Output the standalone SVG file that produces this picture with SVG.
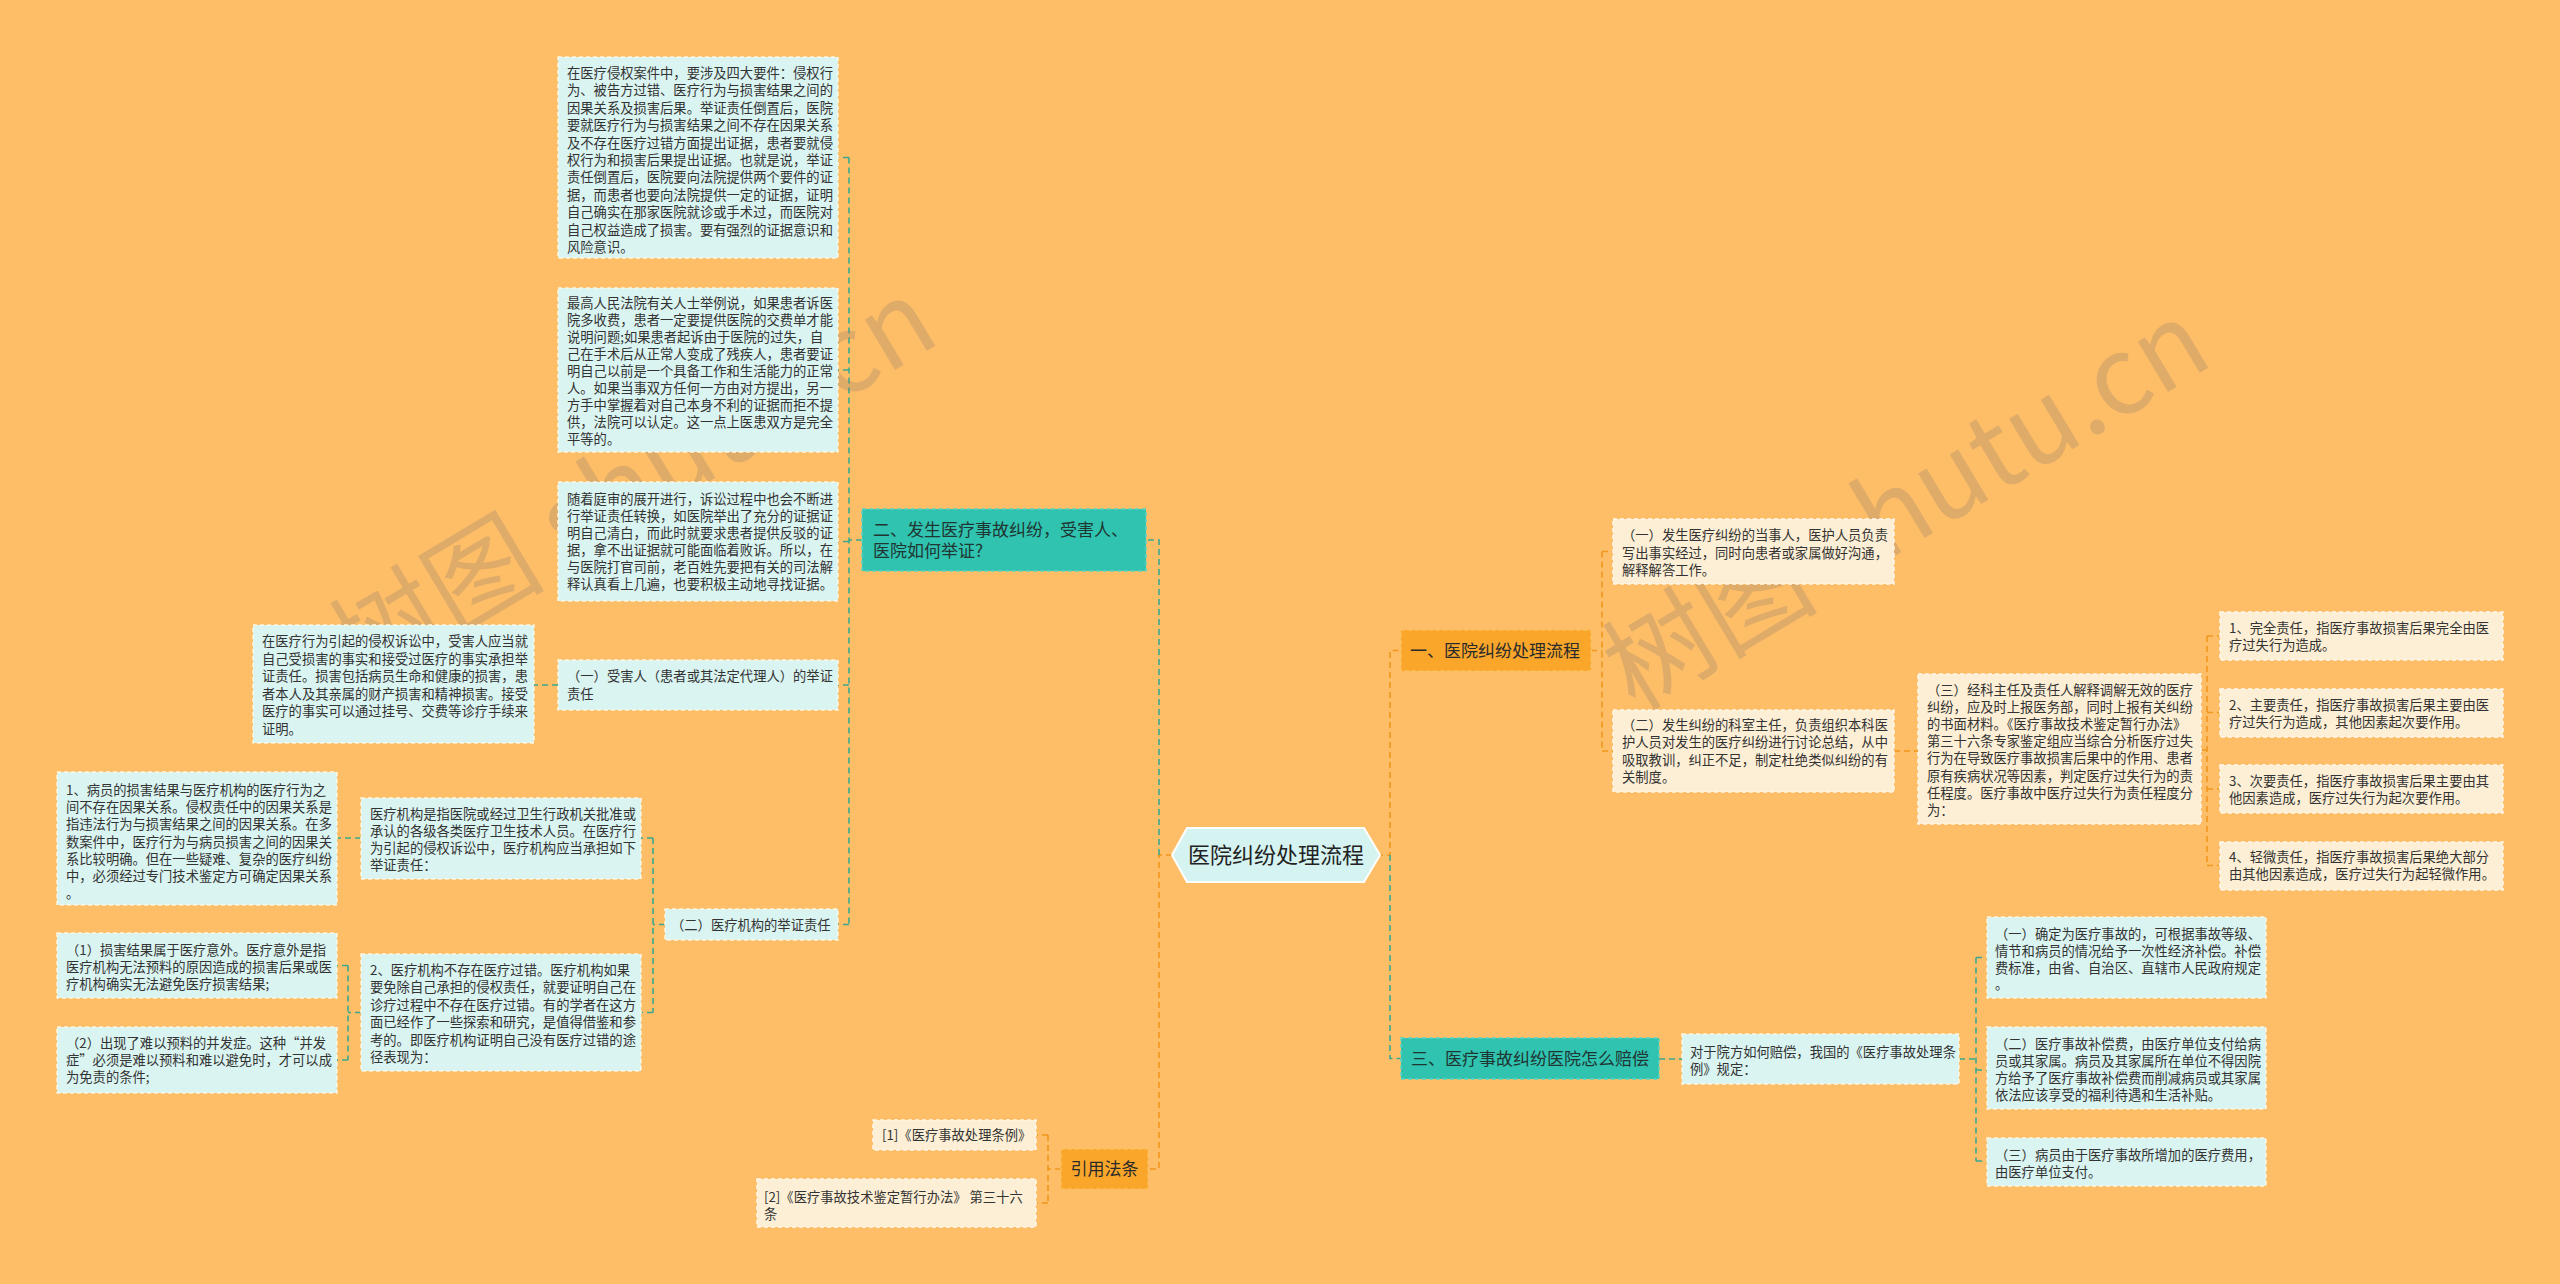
<svg xmlns="http://www.w3.org/2000/svg" width="2560" height="1284" viewBox="0 0 2560 1284">
<style>
text{font-family:"Noto Sans CJK SC","Noto Sans",sans-serif;fill:#333;}
.t{font-size:13.3px;}
.b{font-size:17px;fill:#2a2a2a;}
.bt{font-size:17px;fill:#1f3633;}
.c{font-size:22px;fill:#222;}
.cy{fill:#DAF4F1;stroke:#FFF6DE;stroke-width:1.5;stroke-dasharray:4 3;}
.cr{fill:#FDEFD5;stroke:#FFF8EA;stroke-width:1.5;stroke-dasharray:4 3;}
.tl{fill:#30C3B0;stroke:#5ED3C2;stroke-width:1.5;stroke-dasharray:4 3;}
.or{fill:#F9A62A;stroke:#FBBE5C;stroke-width:1.5;stroke-dasharray:4 3;}
.g{fill:none;stroke:#3AA98F;stroke-width:1.6;stroke-dasharray:6 4;}
.o{fill:none;stroke:#F0971C;stroke-width:1.6;stroke-dasharray:6 4;}
.wm{font-size:108px;fill:#8c7b6b;fill-opacity:0.28;}
</style>
<rect width="2560" height="1284" fill="#FEBE68"/>

<g id="connectors">
<path class="o" d="M1172 855 H1159 V1169 H1148"/>
<path class="g" d="M1159 855 V540 H1146"/>
<path class="g" d="M862 540 H849"/>
<path class="g" d="M849 157.5 V924.5"/>
<path class="g" d="M849 157.5 H838 M849 370 H838 M849 541.5 H838 M849 685 H838 M849 924.5 H838"/>
<path class="g" d="M558 685 H534"/>
<path class="g" d="M665 924.5 H653 M653 838 V1012.5 M653 838 H641 M653 1012.5 H641"/>
<path class="g" d="M361 838 H337"/>
<path class="g" d="M361 1012.5 H348 M348 965.5 V1060 M348 965.5 H337 M348 1060 H337"/>
<path class="o" d="M1061 1169 H1048 M1048 1135 V1203 M1048 1135 H1036 M1048 1203 H1036"/>
<path class="o" d="M1377 855 H1390 V650.5 H1401"/>
<path class="g" d="M1390 855 V1058.5 H1401"/>
<path class="o" d="M1591 650.5 H1602 M1602 551.5 V751 M1602 551.5 H1613 M1602 751 H1613"/>
<path class="o" d="M1894 751 H1918"/>
<path class="o" d="M2201 750 H2207 M2207 636 V865.5 M2207 636 H2220 M2207 712.5 H2220 M2207 789 H2220 M2207 865.5 H2220"/>
<path class="g" d="M1659 1059 H1682"/>
<path class="g" d="M1959 1059 H1976 M1976 957.5 V1161 M1976 957.5 H1987 M1976 1070 H1987 M1976 1161 H1987"/>
</g>

<g id="watermarks">
<text class="wm" x="362" y="690" transform="rotate(-31 362 690)">树图 shutu.cn</text>
<text class="wm" x="1635" y="712" transform="rotate(-31 1635 712)">树图 shutu.cn</text>
</g>

<g id="center">
<polygon points="1172,855 1187,828 1364,828 1380,855 1364,882 1187,882" fill="#D5F3F0" stroke="#FFFFFF" stroke-width="2"/>
<text class="c" x="1276" y="863" text-anchor="middle">医院纠纷处理流程</text>
</g>

<g id="n2">
<rect class="tl" x="862" y="509" width="284" height="62"/>
<text class="bt" x="873" y="536">二、发生医疗事故纠纷，受害人、<tspan x="873" dy="21">医院如何举证?</tspan></text>
</g>

<g id="n2a">
<rect class="cy" x="558" y="57" width="280" height="201"/>
<text class="t" x="567" y="78">在医疗侵权案件中，要涉及四大要件：侵权行<tspan x="567" dy="17.4">为、被告方过错、医疗行为与损害结果之间的</tspan><tspan x="567" dy="17.4">因果关系及损害后果。举证责任倒置后，医院</tspan><tspan x="567" dy="17.4">要就医疗行为与损害结果之间不存在因果关系</tspan><tspan x="567" dy="17.4">及不存在医疗过错方面提出证据，患者要就侵</tspan><tspan x="567" dy="17.4">权行为和损害后果提出证据。也就是说，举证</tspan><tspan x="567" dy="17.4">责任倒置后，医院要向法院提供两个要件的证</tspan><tspan x="567" dy="17.4">据，而患者也要向法院提供一定的证据，证明</tspan><tspan x="567" dy="17.4">自己确实在那家医院就诊或手术过，而医院对</tspan><tspan x="567" dy="17.4">自己权益造成了损害。要有强烈的证据意识和</tspan><tspan x="567" dy="17.4">风险意识。</tspan></text>
</g>

<g id="n2b">
<rect class="cy" x="558" y="288" width="280" height="164"/>
<text class="t" x="567" y="308">最高人民法院有关人士举例说，如果患者诉医<tspan x="567" dy="17">院多收费，患者一定要提供医院的交费单才能</tspan><tspan x="567" dy="17">说明问题;如果患者起诉由于医院的过失，自</tspan><tspan x="567" dy="17">己在手术后从正常人变成了残疾人，患者要证</tspan><tspan x="567" dy="17">明自己以前是一个具备工作和生活能力的正常</tspan><tspan x="567" dy="17">人。如果当事双方任何一方由对方提出，另一</tspan><tspan x="567" dy="17">方手中掌握着对自己本身不利的证据而拒不提</tspan><tspan x="567" dy="17">供，法院可以认定。这一点上医患双方是完全</tspan><tspan x="567" dy="17">平等的。</tspan></text>
</g>

<g id="n2c">
<rect class="cy" x="558" y="482" width="280" height="119"/>
<text class="t" x="567" y="504">随着庭审的展开进行，诉讼过程中也会不断进<tspan x="567" dy="17">行举证责任转换，如医院举出了充分的证据证</tspan><tspan x="567" dy="17">明自己清白，而此时就要求患者提供反驳的证</tspan><tspan x="567" dy="17">据，拿不出证据就可能面临着败诉。所以，在</tspan><tspan x="567" dy="17">与医院打官司前，老百姓先要把有关的司法解</tspan><tspan x="567" dy="17">释认真看上几遍，也要积极主动地寻找证据。</tspan></text>
</g>

<g id="n2d">
<rect class="cy" x="558" y="660" width="280" height="50"/>
<text class="t" x="567" y="681">（一）受害人（患者或其法定代理人）的举证<tspan x="567" dy="18">责任</tspan></text>
</g>

<g id="n2d1">
<rect class="cy" x="253" y="625" width="281" height="118"/>
<text class="t" x="262" y="646">在医疗行为引起的侵权诉讼中，受害人应当就<tspan x="262" dy="17.5">自己受损害的事实和接受过医疗的事实承担举</tspan><tspan x="262" dy="17.5">证责任。损害包括病员生命和健康的损害，患</tspan><tspan x="262" dy="17.5">者本人及其亲属的财产损害和精神损害。接受</tspan><tspan x="262" dy="17.5">医疗的事实可以通过挂号、交费等诊疗手续来</tspan><tspan x="262" dy="17.5">证明。</tspan></text>
</g>

<g id="n2e">
<rect class="cy" x="665" y="909" width="173" height="31"/>
<text class="t" x="671" y="929.5">（二）医疗机构的举证责任</text>
</g>

<g id="n2e1">
<rect class="cy" x="361" y="798" width="280" height="81"/>
<text class="t" x="370" y="819">医疗机构是指医院或经过卫生行政机关批准或<tspan x="370" dy="17">承认的各级各类医疗卫生技术人员。在医疗行</tspan><tspan x="370" dy="17">为引起的侵权诉讼中，医疗机构应当承担如下</tspan><tspan x="370" dy="17">举证责任：</tspan></text>
</g>

<g id="n2e1a">
<rect class="cy" x="57" y="772" width="280" height="133"/>
<text class="t" x="66" y="795">1、病员的损害结果与医疗机构的医疗行为之<tspan x="66" dy="17.2">间不存在因果关系。侵权责任中的因果关系是</tspan><tspan x="66" dy="17.2">指违法行为与损害结果之间的因果关系。在多</tspan><tspan x="66" dy="17.2">数案件中，医疗行为与病员损害之间的因果关</tspan><tspan x="66" dy="17.2">系比较明确。但在一些疑难、复杂的医疗纠纷</tspan><tspan x="66" dy="17.2">中，必须经过专门技术鉴定方可确定因果关系</tspan><tspan x="66" dy="17.2">。</tspan></text>
</g>

<g id="n2e2">
<rect class="cy" x="361" y="954" width="280" height="117"/>
<text class="t" x="370" y="975">2、医疗机构不存在医疗过错。医疗机构如果<tspan x="370" dy="17.4">要免除自己承担的侵权责任，就要证明自己在</tspan><tspan x="370" dy="17.4">诊疗过程中不存在医疗过错。有的学者在这方</tspan><tspan x="370" dy="17.4">面已经作了一些探索和研究，是值得借鉴和参</tspan><tspan x="370" dy="17.4">考的。即医疗机构证明自己没有医疗过错的途</tspan><tspan x="370" dy="17.4">径表现为：</tspan></text>
</g>

<g id="n2e2a">
<rect class="cy" x="57" y="933" width="280" height="65"/>
<text class="t" x="66" y="955">（1）损害结果属于医疗意外。医疗意外是指<tspan x="66" dy="17">医疗机构无法预料的原因造成的损害后果或医</tspan><tspan x="66" dy="17">疗机构确实无法避免医疗损害结果;</tspan></text>
</g>

<g id="n2e2b">
<rect class="cy" x="57" y="1027" width="280" height="66"/>
<text class="t" x="66" y="1048">（2）出现了难以预料的并发症。这种“并发<tspan x="66" dy="17">症”必须是难以预料和难以避免时，才可以成</tspan><tspan x="66" dy="17">为免责的条件;</tspan></text>
</g>

<g id="ref">
<rect class="or" x="1061" y="1149" width="87" height="40"/>
<text class="b" x="1104.5" y="1175" text-anchor="middle">引用法条</text>
</g>
<g id="ref1">
<rect class="cr" x="873" y="1120" width="163" height="30"/>
<text class="t" x="882" y="1140">[1]《医疗事故处理条例》</text>
</g>
<g id="ref2">
<rect class="cr" x="757" y="1179" width="279" height="48"/>
<text class="t" x="764" y="1202">[2]《医疗事故技术鉴定暂行办法》 第三十六<tspan x="764" dy="16.5">条</tspan></text>
</g>

<g id="n1">
<rect class="or" x="1401" y="630" width="190" height="41"/>
<text class="b" x="1410" y="657">一、医院纠纷处理流程</text>
</g>
<g id="n1a">
<rect class="cr" x="1613" y="519" width="281" height="65"/>
<text class="t" x="1622" y="540">（一）发生医疗纠纷的当事人，医护人员负责<tspan x="1622" dy="17.5">写出事实经过，同时向患者或家属做好沟通，</tspan><tspan x="1622" dy="17.5">解释解答工作。</tspan></text>
</g>
<g id="n1b">
<rect class="cr" x="1613" y="710" width="281" height="82"/>
<text class="t" x="1622" y="730">（二）发生纠纷的科室主任，负责组织本科医<tspan x="1622" dy="17.3">护人员对发生的医疗纠纷进行讨论总结，从中</tspan><tspan x="1622" dy="17.3">吸取教训，纠正不足，制定杜绝类似纠纷的有</tspan><tspan x="1622" dy="17.3">关制度。</tspan></text>
</g>
<g id="n1c">
<rect class="cr" x="1918" y="674" width="283" height="150"/>
<text class="t" x="1927" y="695">（三）经科主任及责任人解释调解无效的医疗<tspan x="1927" dy="17.1">纠纷，应及时上报医务部，同时上报有关纠纷</tspan><tspan x="1927" dy="17.1">的书面材料。《医疗事故技术鉴定暂行办法》</tspan><tspan x="1927" dy="17.1">第三十六条专家鉴定组应当综合分析医疗过失</tspan><tspan x="1927" dy="17.1">行为在导致医疗事故损害后果中的作用、患者</tspan><tspan x="1927" dy="17.1">原有疾病状况等因素，判定医疗过失行为的责</tspan><tspan x="1927" dy="17.1">任程度。医疗事故中医疗过失行为责任程度分</tspan><tspan x="1927" dy="17.1">为：</tspan></text>
</g>
<g id="n1c1">
<rect class="cr" x="2220" y="612" width="283" height="48"/>
<text class="t" x="2229" y="633">1、完全责任，指医疗事故损害后果完全由医<tspan x="2229" dy="17">疗过失行为造成。</tspan></text>
</g>
<g id="n1c2">
<rect class="cr" x="2220" y="689" width="283" height="48"/>
<text class="t" x="2229" y="710">2、主要责任，指医疗事故损害后果主要由医<tspan x="2229" dy="17">疗过失行为造成，其他因素起次要作用。</tspan></text>
</g>
<g id="n1c3">
<rect class="cr" x="2220" y="765" width="283" height="48"/>
<text class="t" x="2229" y="786">3、次要责任，指医疗事故损害后果主要由其<tspan x="2229" dy="17">他因素造成，医疗过失行为起次要作用。</tspan></text>
</g>
<g id="n1c4">
<rect class="cr" x="2220" y="842" width="283" height="48"/>
<text class="t" x="2229" y="862">4、轻微责任，指医疗事故损害后果绝大部分<tspan x="2229" dy="17">由其他因素造成，医疗过失行为起轻微作用。</tspan></text>
</g>

<g id="n3">
<rect class="tl" x="1401" y="1038" width="258" height="41"/>
<text class="bt" x="1411" y="1065">三、医疗事故纠纷医院怎么赔偿</text>
</g>
<g id="n3a">
<rect class="cy" x="1682" y="1034" width="277" height="50"/>
<text class="t" x="1690" y="1057">对于院方如何赔偿，我国的《医疗事故处理条<tspan x="1690" dy="17">例》规定：</tspan></text>
</g>
<g id="n3a1">
<rect class="cy" x="1987" y="917" width="279" height="81"/>
<text class="t" x="1995" y="939">（一）确定为医疗事故的，可根据事故等级、<tspan x="1995" dy="16.8">情节和病员的情况给予一次性经济补偿。补偿</tspan><tspan x="1995" dy="16.8">费标准，由省、自治区、直辖市人民政府规定</tspan><tspan x="1995" dy="16.8">。</tspan></text>
</g>
<g id="n3a2">
<rect class="cy" x="1987" y="1027" width="279" height="82"/>
<text class="t" x="1995" y="1049">（二）医疗事故补偿费，由医疗单位支付给病<tspan x="1995" dy="17">员或其家属。病员及其家属所在单位不得因院</tspan><tspan x="1995" dy="17">方给予了医疗事故补偿费而削减病员或其家属</tspan><tspan x="1995" dy="17">依法应该享受的福利待遇和生活补贴。</tspan></text>
</g>
<g id="n3a3">
<rect class="cy" x="1987" y="1138" width="279" height="48"/>
<text class="t" x="1995" y="1160">（三）病员由于医疗事故所增加的医疗费用，<tspan x="1995" dy="17">由医疗单位支付。</tspan></text>
</g>
</svg>
